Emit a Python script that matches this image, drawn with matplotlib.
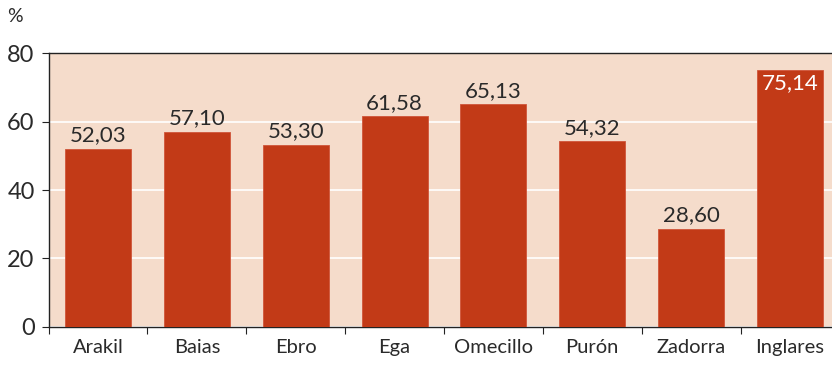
import matplotlib
matplotlib.use("Agg")
import matplotlib.pyplot as plt

categories = ["Arakil", "Baias", "Ebro", "Ega", "Omecillo", "Purón", "Zadorra", "Inglares"]
values = [52.03, 57.10, 53.30, 61.58, 65.13, 54.32, 28.60, 75.14]
yticks = [0, 20, 40, 60, 80]

plt.rcParams['font.family'] = ['Lato', 'DejaVu Sans']
txt = '#2a2a2a'
fig = plt.figure(figsize=(8.32, 3.70), dpi=100)
ax = fig.add_axes([0.0584, 0.1170, 0.9505, 0.7387])
ax.set_facecolor('#F5DCCB')
x = list(range(len(categories)))
bars = ax.bar(x, values, width=0.668, color='#C23A17', edgecolor='#D0553A', linewidth=0.6, zorder=3)
ax.set_xlim(-0.5, len(categories) - 0.5)
ax.set_ylim(0, 80)
ax.set_yticks(yticks)
ax.set_yticklabels([str(v) for v in yticks], fontsize=17, color=txt)
ax.yaxis.grid(True, color='white', linewidth=1.2, zorder=1)
ax.set_xticks([i - 0.5 for i in x] + [len(categories) - 0.5])
ax.set_xticklabels([])
ax.set_xticks(x, minor=True)
ax.set_xticklabels(categories, minor=True, fontsize=14.5, color=txt)
ax.tick_params(axis='x', which='minor', length=0, pad=9)
ax.tick_params(axis='x', which='major', length=5, direction='out', color='#222222')
ax.tick_params(axis='y', length=5, color='#222222', pad=5)
for s in ['left', 'bottom', 'top']:
    ax.spines[s].set_color('#222222')
    ax.spines[s].set_linewidth(1.0)
ax.spines['right'].set_visible(False)
for i, v in enumerate(values):
    lab = f"{v:.2f}".replace('.', ',')
    if i == len(values) - 1:
        ax.text(i, v - 1.0, lab, ha='center', va='top', fontsize=16, color='white', zorder=4)
    else:
        ax.text(i, v + 1.0, lab, ha='center', va='bottom', fontsize=16, color=txt, zorder=4)
fig.text(0.009, 0.955, '%', fontsize=14, color=txt, ha='left', va='center')
fig.savefig('out.png', dpi=100)
